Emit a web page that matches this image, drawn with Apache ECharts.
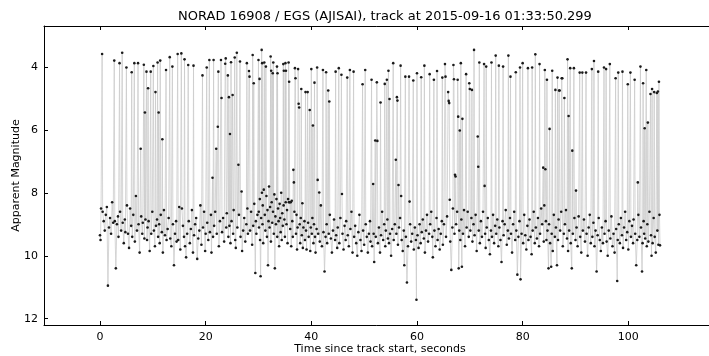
<!DOCTYPE html>
<html>
<head>
<meta charset="utf-8">
<script src="https://cdn.jsdelivr.net/npm/echarts@6/dist/echarts.min.js"></script>
<style>html,body{margin:0;padding:0;background:#fff;}#c{width:709px;height:356px;}</style>
</head>
<body>
<div id="c"></div>
<script>
// Track segments: [time (s), apparent magnitude]
var track1 = [[0.0,9.35],[0.1,9.5],[0.2,8.5],[0.4,3.59],[0.5,8.6],[0.7,8.9],[0.9,9.2],[1.1,8.7],[1.3,8.45],[1.5,10.95],[1.7,9.1],[1.9,8.8],[2.1,9.3],[2.3,8.3],[2.5,8.95],[2.7,3.8],[2.8,8.9],[3.0,10.4],[3.2,9.0],[3.4,8.75],[3.5,9.4],[3.7,3.88],[3.8,8.6],[4.0,9.2],[4.2,3.55],[4.3,8.95],[4.5,9.6],[4.7,8.85],[4.8,9.25],[5.0,4.02],[5.1,8.4],[5.3,9.3],[5.5,9.75],[5.7,8.5],[5.9,9.05],[6.0,4.17],[6.1,9.4],[6.3,8.7],[6.5,3.88],[6.6,9.55],[6.8,8.1],[7.0,9.2],[7.2,3.88],[7.3,9.0],[7.5,9.9],[7.7,6.6],[7.8,8.75],[8.0,9.3],[8.1,8.95],[8.3,3.93],[8.4,9.45],[8.5,5.45],[8.6,8.85],[8.8,4.15],[8.9,9.5],[9.0,9.1],[9.1,4.68],[9.2,8.9],[9.4,9.85],[9.6,4.15],[9.7,9.3],[9.9,8.6],[10.1,3.97],[10.2,9.2],[10.4,9.7],[10.5,4.8],[10.6,9.05],[10.8,8.85],[10.9,3.86],[11.0,9.4],[11.1,5.45],[11.2,9.0],[11.3,9.6],[11.4,3.8],[11.5,8.7],[11.7,9.25],[11.8,6.3],[11.9,9.9],[12.1,8.55],[12.3,9.35],[12.5,4.1],[12.6,9.5],[12.8,9.15],[13.0,8.8],[13.2,3.69],[13.3,9.45],[13.5,9.7],[13.7,3.99],[13.8,9.0],[14.0,10.3],[14.2,9.3],[14.4,8.9],[14.5,9.55],[14.7,3.59],[14.8,9.5],[15.0,8.45],[15.2,9.8],[15.4,3.57],[15.5,8.5],[15.7,9.05],[15.9,9.4],[16.0,3.76],[16.1,9.7],[16.3,10.05],[16.5,9.3],[16.7,3.94],[16.8,8.9],[17.0,9.6],[17.2,9.15],[17.4,8.55],[17.6,9.9],[17.7,3.96],[17.8,9.35],[18.0,9.0],[18.2,8.8],[18.4,10.1],[18.6,9.45],[18.8,9.2],[19.0,8.4],[19.2,9.65],[19.4,4.27],[19.5,9.1],[19.7,8.6],[19.9,9.85],[20.0,9.3],[20.2,4.02],[20.3,8.95],[20.5,9.5],[20.7,3.78],[20.8,9.25],[21.0,8.7],[21.1,9.9],[21.3,7.52],[21.4,9.4],[21.5,3.78],[21.6,9.05],[21.8,8.6],[22.0,6.6],[22.1,9.3],[22.3,5.9],[22.4,4.15],[22.5,9.7],[22.7,8.9],[22.9,3.78],[23.0,4.99],[23.1,9.25],[23.3,8.8],[23.5,9.55],[23.7,3.9],[23.8,3.73],[23.9,9.1],[24.0,8.65],[24.2,4.27],[24.3,9.4],[24.4,4.96],[24.5,9.05],[24.6,6.13],[24.7,9.6],[24.8,3.85],[24.9,8.9],[25.1,4.89],[25.2,9.3],[25.3,8.55],[25.5,3.7],[25.6,9.5],[25.7,9.75],[25.9,3.55],[26.0,9.1],[26.2,7.11],[26.3,8.7],[26.5,3.83],[26.6,9.4],[26.8,7.96],[26.9,9.85],[27.1,9.2],[27.3,8.8],[27.5,9.55],[27.7,9.0],[27.8,3.88],[27.9,8.5],[28.0,9.3],[28.2,4.13],[28.3,4.31],[28.4,9.2],[28.6,8.6],[28.8,9.65],[28.9,3.62],[29.0,9.05],[29.1,4.52],[29.2,8.35],[29.4,10.55],[29.5,8.9],[29.6,9.3],[29.8,8.7]];
var track2 = [[30.0,3.78],[30.05,8.6],[30.1,9.1],[30.2,4.38],[30.25,8.2],[30.3,9.5],[30.4,10.65],[30.5,8.8],[30.6,3.46],[30.65,8.0],[30.7,3.88],[30.75,9.0],[30.8,8.4],[30.9,9.6],[31.0,7.9],[31.1,3.86],[31.2,8.7],[31.3,9.2],[31.4,3.99],[31.5,8.1],[31.6,9.4],[31.7,8.55],[31.8,10.3],[31.9,8.9],[32.0,7.8],[32.1,9.1],[32.2,8.45],[32.3,3.67],[32.35,9.55],[32.4,4.12],[32.5,8.3],[32.6,8.95],[32.7,4.2],[32.75,8.6],[32.8,3.86],[32.9,9.3],[33.0,8.05],[33.1,10.4],[33.2,8.75],[33.3,9.0],[33.4,8.2],[33.5,3.99],[33.55,9.4],[33.6,4.2],[33.7,8.5],[33.8,8.9],[33.9,9.7],[34.0,8.35],[34.1,8.8],[34.2,9.25],[34.3,8.0],[34.4,9.5],[34.5,8.65],[34.6,9.05],[34.7,3.91],[34.75,8.4],[34.8,4.12],[34.9,8.85],[35.0,9.4],[35.1,3.88],[35.15,8.3],[35.2,4.12],[35.3,9.0],[35.4,8.55],[35.5,9.6],[35.6,8.2],[35.7,3.86],[35.75,8.3],[35.8,4.47],[35.9,8.3],[36.0,9.15],[36.1,8.3],[36.2,9.7],[36.3,8.25],[36.4,8.9],[36.5,9.4],[36.6,7.27],[36.7,7.67],[36.8,8.6],[36.9,4.04],[37.0,4.36],[37.1,9.3],[37.2,8.7],[37.3,9.8],[37.4,9.1],[37.5,4.07],[37.6,5.17],[37.7,5.29],[37.8,9.0],[37.9,9.6],[38.0,8.8],[38.1,4.7],[38.2,9.35],[38.3,8.33],[38.4,9.75],[38.5,9.1],[38.7,8.9],[38.8,9.5],[38.9,4.8],[39.0,9.2],[39.1,9.8],[39.3,4.8],[39.4,8.95],[39.5,9.4],[39.7,5.37],[39.8,9.85],[39.9,9.1],[40.0,4.07],[40.1,9.3],[40.2,8.8],[40.3,5.86],[40.4,9.6],[40.5,9.0],[40.6,4.5],[40.7,9.4],[40.8,9.9],[41.0,9.15],[41.1,4.02],[41.2,7.59],[41.3,9.3],[41.5,7.99],[41.6,9.55],[41.8,8.4],[42.0,9.7],[42.2,4.1],[42.3,9.25],[42.5,10.5],[42.7,9.4],[42.8,4.17],[42.9,9.0],[43.0,9.6],[43.2,4.75],[43.3,9.3],[43.4,5.1],[43.5,8.7],[43.7,9.45],[43.9,9.9],[44.1,9.2],[44.3,8.85],[44.5,9.5],[44.6,4.15],[44.7,9.35],[44.9,9.75],[45.0,9.1],[45.2,4.04],[45.3,9.6],[45.5,8.8],[45.7,4.25],[45.8,8.04],[45.9,9.3],[46.1,9.8],[46.3,9.05],[46.5,9.5],[46.6,8.9],[46.8,4.34],[46.9,9.35],[47.1,9.7],[47.3,4.1],[47.4,9.15],[47.6,8.6],[47.8,9.9],[48.0,4.15],[48.1,9.4],[48.3,9.05],[48.5,9.6],[48.7,10.0],[48.9,9.25],[49.1,8.7],[49.3,9.5],[49.5,9.85],[49.7,4.55],[49.8,9.2],[50.0,9.65],[50.2,4.1],[50.3,9.0],[50.5,9.4],[50.7,9.9],[50.9,9.3],[51.1,8.9],[51.2,9.55],[51.4,4.41],[51.5,9.7],[51.7,7.72],[51.8,9.3],[51.9,10.2],[52.1,6.34],[52.2,9.4],[52.4,4.49],[52.5,6.35],[52.6,9.6],[52.8,9.1],[53.0,9.9],[53.1,5.13],[53.2,9.35],[53.4,8.6],[53.6,9.5],[53.8,9.0],[53.9,4.54],[54.0,9.7],[54.1,9.2],[54.3,4.41],[54.4,8.85],[54.5,9.45],[54.6,4.12],[54.7,9.6],[54.8,5.02],[54.9,9.3],[55.1,10.0],[55.3,9.15],[55.5,3.88],[55.6,9.5],[55.8,9.0],[56.0,6.95],[56.1,9.3],[56.2,4.96],[56.3,5.07],[56.4,9.65],[56.5,7.75],[56.6,9.1],[56.8,8.8],[56.9,3.96],[57.0,8.1],[57.1,9.5],[57.3,9.85],[57.5,9.2],[57.6,10.3],[57.8,4.31],[57.9,9.4],[58.1,10.85],[58.3,9.7],[58.5,4.31],[58.6,8.28],[58.7,9.0],[58.9,9.55],[59.1,9.3],[59.3,4.43],[59.4,9.8],[59.6,9.1],[59.8,9.5],[59.9,11.4]];
var track3 = [[60.0,4.2],[60.1,9.35],[60.3,9.75],[60.5,9.0],[60.7,9.6],[60.8,4.33],[60.9,9.25],[61.1,8.85],[61.3,9.45],[61.4,3.96],[61.5,9.9],[61.7,9.2],[61.9,8.7],[62.1,9.55],[62.3,9.3],[62.4,4.23],[62.5,9.0],[62.7,8.6],[62.9,9.4],[63.0,10.05],[63.2,4.41],[63.3,9.2],[63.5,9.7],[63.7,8.8],[63.8,4.13],[63.9,9.5],[64.1,9.15],[64.3,9.8],[64.5,9.3],[64.7,8.9],[64.8,4.34],[64.9,9.65],[65.1,9.0],[65.3,3.91],[65.4,4.31],[65.5,9.4],[65.7,8.75],[65.9,4.8],[66.0,5.08],[66.1,5.15],[66.2,8.22],[66.3,9.55],[66.5,10.45],[66.7,9.1],[66.8,8.5],[66.9,3.94],[67.0,4.39],[67.1,9.3],[67.2,7.43],[67.3,7.48],[67.4,9.0],[67.6,8.6],[67.7,4.41],[67.8,5.58],[67.9,10.4],[68.0,9.2],[68.1,6.02],[68.2,9.5],[68.3,3.88],[68.4,8.85],[68.5,10.35],[68.6,5.65],[68.7,9.3],[68.9,8.55],[69.1,9.7],[69.3,4.23],[69.4,9.1],[69.6,8.6],[69.8,9.4],[69.9,4.52],[70.0,4.7],[70.1,9.2],[70.3,8.8],[70.4,4.73],[70.5,9.55],[70.7,9.0],[70.8,3.46],[70.9,9.35],[71.1,8.7],[71.3,9.85],[71.5,6.21],[71.6,7.17],[71.7,9.2],[71.8,3.86],[71.9,9.6],[72.1,8.9],[72.3,9.4],[72.5,8.6],[72.7,3.91],[72.8,7.78],[72.9,9.3],[73.0,9.75],[73.1,3.99],[73.2,9.1],[73.4,8.8],[73.6,9.5],[73.8,9.95],[74.0,9.2],[74.1,3.86],[74.2,9.4],[74.4,8.7],[74.6,9.6],[74.8,9.05],[74.9,3.64],[75.0,9.3],[75.2,8.85],[75.4,9.7],[75.5,3.96],[75.6,9.1],[75.8,9.5],[76.0,10.2],[76.2,8.9],[76.3,3.99],[76.4,9.35],[76.6,9.0],[76.8,8.55],[77.0,9.65],[77.2,9.2],[77.3,3.64],[77.4,9.45],[77.6,8.8],[77.7,4.31],[77.8,9.3],[78.0,9.9],[78.2,9.0],[78.4,8.6],[78.6,9.5],[78.7,4.17],[78.8,9.2],[79.0,10.6],[79.2,9.4],[79.4,8.9],[79.5,4.02],[79.6,10.75],[79.8,9.3],[80.0,3.88],[80.1,9.6],[80.3,8.7],[80.5,9.35],[80.7,9.8],[80.9,9.05],[81.0,4.04],[81.1,9.5],[81.3,8.85],[81.5,9.4],[81.7,9.95],[81.8,4.02],[81.9,9.2],[82.1,8.6],[82.3,9.6],[82.4,3.6],[82.5,9.1],[82.7,9.45],[82.9,8.8],[83.1,9.7],[83.2,3.91],[83.3,9.3],[83.5,8.5],[83.7,9.0],[83.9,7.2],[84.0,9.55],[84.1,8.4],[84.2,4.1],[84.3,7.25],[84.4,8.9],[84.5,9.5],[84.6,4.41],[84.7,9.2],[84.9,10.4],[85.0,9.0],[85.1,5.97],[85.2,9.6],[85.4,10.35],[85.5,9.3],[85.6,4.12],[85.7,9.85],[85.9,8.7],[86.1,9.4],[86.2,4.73],[86.3,9.1],[86.5,10.3],[86.6,4.34],[86.7,9.5],[86.8,8.85],[86.9,4.75],[87.0,4.75],[87.1,9.2],[87.3,8.6],[87.4,4.36],[87.5,4.36],[87.6,9.7],[87.8,9.3],[87.9,4.99],[88.0,9.0],[88.2,8.55],[88.4,9.45],[88.5,3.76],[88.6,9.85],[88.7,5.56],[88.8,9.2],[89.0,4.04],[89.1,9.6],[89.3,10.4],[89.4,6.66],[89.5,9.3],[89.7,4.04],[89.8,8.8]];
var track4 = [[90.0,9.5],[90.1,7.93],[90.2,9.1],[90.4,9.7],[90.6,8.75],[90.8,4.18],[90.9,9.4],[91.1,9.9],[91.3,4.18],[91.4,9.2],[91.6,8.85],[91.8,9.55],[92.0,4.18],[92.1,9.3],[92.3,10.0],[92.5,9.1],[92.7,8.7],[92.9,9.6],[93.1,4.07],[93.2,9.4],[93.4,8.95],[93.5,3.81],[93.6,9.7],[93.8,9.2],[94.0,10.5],[94.2,9.35],[94.3,4.15],[94.4,8.8],[94.6,9.5],[94.8,9.85],[95.0,9.1],[95.2,9.6],[95.4,4.02],[95.5,9.3],[95.7,8.9],[95.8,4.07],[95.9,9.55],[96.1,10.0],[96.3,9.2],[96.5,3.91],[96.6,9.45],[96.8,8.75],[97.0,9.7],[97.2,9.3],[97.4,9.9],[97.6,4.36],[97.7,9.15],[97.9,10.8],[98.0,9.5],[98.1,4.18],[98.2,9.0],[98.4,9.6],[98.6,8.8],[98.8,9.35],[98.9,4.15],[99.0,9.75],[99.2,9.1],[99.4,8.6],[99.6,9.5],[99.8,9.25],[99.9,4.55],[100.0,9.8],[100.2,8.9],[100.4,4.18],[100.5,9.4],[100.7,9.05],[100.9,9.6],[101.0,8.85],[101.2,4.41],[101.3,9.3],[101.5,10.3],[101.7,9.5],[101.8,7.67],[101.9,8.7],[102.1,9.4],[102.3,3.99],[102.4,9.1],[102.6,10.5],[102.7,9.6],[102.8,4.52],[102.9,8.9],[103.0,9.3],[103.1,5.95],[103.2,9.45],[103.4,4.1],[103.5,9.7],[103.6,9.0],[103.7,5.77],[103.8,9.55],[104.0,8.6],[104.2,4.86],[104.3,9.35],[104.4,10.0],[104.5,4.7],[104.6,9.6],[104.8,8.8],[104.9,4.8],[105.0,9.4],[105.2,9.9],[105.4,4.83],[105.5,9.2],[105.6,4.78],[105.7,9.65],[105.8,4.47],[105.9,8.7],[106.0,9.67]];
var xTicks = [0, 20, 40, 60, 80, 100];
var yTicks = [4, 6, 8, 10, 12];

var track = track1.concat(track2, track3, track4);
var FONT = 'DejaVu Sans';
var chart = echarts.init(document.getElementById('c'));
function xAxisCfg(pos, showLabel) {
  return {
    type: 'value', position: pos, min: -10.6, max: 116.6,
    axisLine: { show: true, onZero: false, lineStyle: { color: '#000', width: 1 } },
    axisTick: { show: true, inside: true, length: 4, customValues: xTicks, lineStyle: { color: '#000' } },
    axisLabel: { show: showLabel, customValues: xTicks, color: '#000', fontFamily: FONT, fontSize: 11, margin: 7 },
    splitLine: { show: false },
    name: showLabel ? 'Time since track start, seconds' : '',
    nameLocation: 'middle', nameGap: 19, nameMoveOverlap: false,
    nameTextStyle: { color: '#000', fontFamily: FONT, fontSize: 11 }
  };
}
function yAxisCfg(pos, showLabel) {
  return {
    type: 'value', position: pos, min: 2.7, max: 12.2, inverse: true,
    axisLine: { show: true, onZero: false, lineStyle: { color: '#000', width: 1 } },
    axisTick: { show: true, inside: true, length: 4, customValues: yTicks, lineStyle: { color: '#000' } },
    axisLabel: { show: showLabel, customValues: yTicks, color: '#000', fontFamily: FONT, fontSize: 11, margin: 6 },
    splitLine: { show: false },
    name: showLabel ? 'Apparent Magnitude' : '',
    nameLocation: 'middle', nameGap: 22, nameRotate: 90, nameMoveOverlap: false,
    nameTextStyle: { color: '#000', fontFamily: FONT, fontSize: 11 }
  };
}
chart.setOption({
  animation: false,
  backgroundColor: '#fff',
  title: {
    text: 'NORAD 16908 / EGS (AJISAI), track at 2015-09-16 01:33:50.299',
    left: 380, top: 5, textAlign: 'center',
    textStyle: { color: '#000', fontFamily: FONT, fontSize: 13, fontWeight: 'normal' }
  },
  grid: { left: 44, right: -7, top: 26, bottom: 31, containLabel: false, outerBoundsMode: 'none' },
  xAxis: [xAxisCfg('bottom', true), xAxisCfg('top', false)],
  yAxis: [yAxisCfg('left', true), yAxisCfg('right', false)],
  series: [{
    type: 'line', data: track, xAxisIndex: 0, yAxisIndex: 0,
    symbol: 'circle', symbolSize: 2.6, showSymbol: true,
    lineStyle: { color: '#cccccc', width: 0.8 },
    itemStyle: { color: '#1a1a1a' },
    emphasis: { disabled: true }
  }]
});
</script>
</body>
</html>
